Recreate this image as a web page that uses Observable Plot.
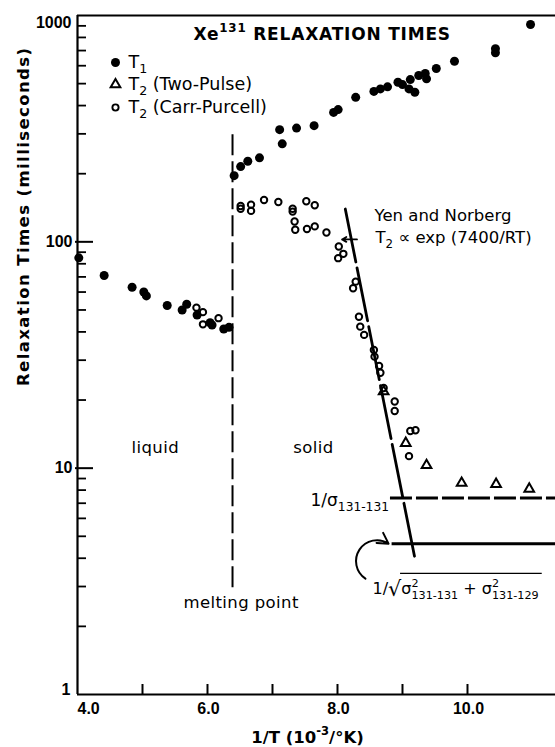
<!DOCTYPE html>
<html><head><meta charset="utf-8">
<script src="https://cdn.jsdelivr.net/npm/d3@7"></script>
<script src="https://cdn.jsdelivr.net/npm/@observablehq/plot@0.6"></script>
<style>
html,body{margin:0;padding:0;background:#fff;}
#chart{width:555px;height:747px;}
</style></head><body><div id="chart"></div>
<script>
// ---- data ----
// T1 (filled circles)
const t1X = [4.02, 4.41, 4.84, 5.02, 5.06, 5.38, 5.61, 5.68, 5.84, 6.04, 6.07, 6.25, 6.33,
  6.41, 6.51, 6.62, 6.80, 7.11, 7.15, 7.37, 7.64, 7.94, 8.01,
  8.28, 8.56, 8.66, 8.77, 8.93, 9.00, 9.10, 9.19, 9.12, 9.25,
  9.35, 9.37, 9.52, 9.80, 10.43, 10.43, 10.97];
const t1Y = [85, 71, 63, 60, 57.7, 52.3, 50, 53, 47.5, 43.9, 42.9, 41.2, 41.9,
  196, 215, 227, 235, 313, 271, 318, 326, 373, 384,
  435, 462, 474, 484, 507, 495, 474, 458, 521, 543,
  554, 525, 583, 628, 713, 684, 912];
// T2 Carr-Purcell (open circles)
const cpX = [5.83, 5.93, 5.93, 6.17,
  6.51, 6.51, 6.67, 6.67, 6.87, 7.09, 7.31, 7.31, 7.34, 7.35,
  7.52, 7.65, 7.53, 7.65, 7.83, 8.02, 8.09, 8.01, 8.28, 8.24,
  8.33, 8.35, 8.41, 8.56, 8.57, 8.64, 8.66, 8.71, 8.88, 8.88,
  9.12, 9.20, 9.10];
const cpY = [51.2, 48.9, 43.2, 46.0,
  144, 140, 146, 137, 153, 150, 140, 136, 123, 113,
  151, 145, 114, 117, 110, 95.3, 88.5, 84.7, 66.7, 62.4,
  46.7, 42.2, 38.8, 33.3, 31.1, 28.3, 26.4, 22.6, 19.7, 17.9,
  14.6, 14.7, 11.3];
// T2 Two-Pulse (triangles)
const tpX = [8.71, 9.05, 9.37, 9.91, 10.44, 10.95];
const tpY = [21.8, 12.9, 10.3, 8.6, 8.5, 8.1];
// Yen and Norberg line endpoints
const yenX = [8.12, 9.20];
const yenY = [139.6, 3.88];
// melting point line
const meltX = [6.385];
const meltY = [297, 2.89];
// reference levels: 1/sigma(131-131) dashed, 1/sqrt(...) solid
const sigmaLevel = [7.39];
const sigmaX = [8.815, 11.354];
const rootLevel = [4.64];
const rootX = [8.84, 11.354];
// ticks
const xDomain = [4, 11.354];
const yDomain = [1, 1000];
const xTicks = [5, 6, 7, 8, 9, 10];
const xTickLabels = ["4.0", "6.0", "8.0", "10.0"];
const xTickLabelValues = [4, 6, 8, 10];
const yMajor = [1, 10, 100, 1000];
const yTickLabels = ["1", "10", "100", "1000"];
const yMinor = [1, 10, 100].flatMap(d => [2,3,4,5,6,7,8,9].map(k => k * d));

// ---- build ----
const W = 555, H = 747, mL = 77, mT = 15, mB = 53, mR = 0;
const t1 = t1X.map((x, i) => ({x, y: t1Y[i]}));
const cp = cpX.map((x, i) => ({x, y: cpY[i]}));
const tp = tpX.map((x, i) => ({x, y: tpY[i]}));
const yen = yenX.map((x, i) => ({x, y: yenY[i]}));
const xLab = xTickLabelValues.map((v, i) => ({v, t: xTickLabels[i]}));
const yLab = yMajor.map((v, i) => ({v, t: yTickLabels[i]}));

const serif = "DejaVu Sans";
const numFont = "Liberation Sans";
const ann = (s, x, y, o = {}) => Plot.text([s], {x: () => x, y: () => y, text: d => d, textAnchor: "start", lineAnchor: "bottom", fontSize: 16.5, fontFamily: serif, fill: "black", ...o});

const chart = Plot.plot({
  width: W, height: H,
  marginLeft: mL, marginTop: mT, marginBottom: mB, marginRight: mR,
  x: {domain: xDomain, axis: null},
  y: {type: "log", domain: yDomain, axis: null},
  style: {fontFamily: serif, background: "white", color: "black", overflow: "visible"},
  marks: [
    // frame
    Plot.ruleX([xDomain[0]], {stroke: "black", strokeWidth: 2.2}),
    Plot.ruleY([yDomain[0]], {stroke: "black", strokeWidth: 2.2}),
    Plot.ruleY([yDomain[1]], {stroke: "black", strokeWidth: 2}),
    // ticks (inward)
    Plot.ruleY(yMinor, {stroke: "black", strokeWidth: 1.8, insetRight: W - mL - mR - 9}),
    Plot.ruleY([10, 100], {stroke: "black", strokeWidth: 2, insetRight: W - mL - mR - 16, insetLeft: -2}),
    Plot.ruleX(xTicks, {stroke: "black", strokeWidth: 2, insetTop: H - mT - mB - 10}),
    // tick labels
    Plot.text(yLab.filter(d => d.v === 10 || d.v === 100), {y: "v", text: "t", frameAnchor: "left", textAnchor: "end", dx: -5, fontSize: 16, fontWeight: "bold", fontFamily: numFont}),
    Plot.text(yLab.filter(d => d.v === 1000), {y: "v", text: "t", frameAnchor: "left", textAnchor: "end", dx: -6, dy: 7, fontSize: 16, fontWeight: "bold", fontFamily: numFont}),
    Plot.text(yLab.filter(d => d.v === 1), {y: "v", text: "t", frameAnchor: "left", textAnchor: "end", dx: -7, dy: -5, fontSize: 16, fontWeight: "bold", fontFamily: numFont}),
    Plot.text(xLab.filter(d => d.v === 4), {x: "v", text: "t", frameAnchor: "bottom", textAnchor: "start", lineAnchor: "bottom", dx: 0, dy: 19, fontSize: 16, fontWeight: "bold", fontFamily: numFont}),
    Plot.text(xLab.filter(d => d.v !== 4), {x: "v", text: "t", frameAnchor: "bottom", lineAnchor: "bottom", dy: 19, dx: 1, fontSize: 16, fontWeight: "bold", fontFamily: numFont}),
    // axis titles
    Plot.text(["1/T (10^{-3}/°K)"], {text: d => d, frameAnchor: "bottom", lineAnchor: "bottom", dx: -9, dy: 48, fontSize: 16.5, fontWeight: "bold", fontFamily: serif}),
    Plot.text(["Relaxation Times (milliseconds)"], {text: d => d, frameAnchor: "left", rotate: -90, dx: -54, dy: 31, fontSize: 16.5, fontWeight: "bold", fontFamily: serif}),
    // title
    Plot.text(["Xe^{131} RELAXATION TIMES"], {text: d => d, frameAnchor: "top-left", textAnchor: "start", lineAnchor: "bottom", dx: 116, dy: 24, fontSize: 17, fontWeight: "bold", fontFamily: serif}),
    // legend
    Plot.dot([0], {frameAnchor: "top-left", dx: 38, dy: 47, r: 4.5, fill: "black"}),
    Plot.dot([0], {frameAnchor: "top-left", dx: 38, dy: 69, r: 3.6, symbol: "triangle", stroke: "black", strokeWidth: 2, fill: "none"}),
    Plot.dot([0], {frameAnchor: "top-left", dx: 38, dy: 92, r: 3.1, stroke: "black", strokeWidth: 1.9, fill: "none"}),
    Plot.text(["T_{1}"], {text: d => d, frameAnchor: "top-left", textAnchor: "start", lineAnchor: "bottom", dx: 51, dy: 52, fontSize: 17.5, fontFamily: serif}),
    Plot.text(["T_{2} (Two-Pulse)"], {text: d => d, frameAnchor: "top-left", textAnchor: "start", lineAnchor: "bottom", dx: 51, dy: 74, fontSize: 17.5, fontFamily: serif}),
    Plot.text(["T_{2} (Carr-Purcell)"], {text: d => d, frameAnchor: "top-left", textAnchor: "start", lineAnchor: "bottom", dx: 51, dy: 97, fontSize: 17.5, fontFamily: serif}),
    // melting point
    Plot.ruleX(meltX, {y1: meltY[0], y2: meltY[1], stroke: "black", strokeWidth: 2, strokeDasharray: "21,6"}),
    // Yen and Norberg line
    Plot.line(yen, {x: "x", y: "y", stroke: "black", strokeWidth: 2.8, strokeDasharray: "54,6"}),
    // reference levels
    Plot.ruleY(sigmaLevel, {x1: sigmaX[0], x2: sigmaX[1], stroke: "black", strokeWidth: 3, strokeDasharray: "22,4"}),
    Plot.ruleY(rootLevel, {x1: rootX[0], x2: rootX[1], stroke: "black", strokeWidth: 3}),
    // data
    Plot.dot(t1, {x: "x", y: "y", r: 4.5, fill: "black"}),
    Plot.dot(cp, {x: "x", y: "y", r: 3.2, stroke: "black", strokeWidth: 2, fill: "none"}),
    Plot.dot(tp, {x: "x", y: "y", r: 3.6, symbol: "triangle", stroke: "black", strokeWidth: 2, fill: "none"}),
    // annotations
    ann("liquid", 4.83, 11.65),
    ann("solid", 7.32, 11.65),
    ann("melting point", 5.63, 2.42),
    ann("Yen and Norberg", 8.57, 123),
    ann("T_{2} ∝ exp (7400/RT)", 8.585, 98.7),
    Plot.arrow([0], {x1: () => 8.30, y1: () => 102.5, x2: () => 8.07, y2: () => 102.5, stroke: "black", strokeWidth: 1.8, headLength: 7}),
    ann("1/σ_{131-131}", 7.585, 6.79, {fontSize: 17}),
    ann("1/!{√}σ^{2}_|{131-131} + σ^{2}_|{131-129}", 8.538, 2.77, {fontSize: 16}),
    Plot.ruleY([3.43], {x1: 8.97, x2: 11.15, stroke: "black", strokeWidth: 1.3}),
    Plot.arrow([0], {x1: () => 8.43, y1: () => 3.25, x2: () => 8.785, y2: () => 4.64, bend: 110, stroke: "black", strokeWidth: 2, headLength: 9})
  ]
});

document.getElementById("chart").appendChild(chart);

// rich text: ^{sup}, _{sub}, _|{sub stacked under previous sup}, !{enlarged}
function richify(svg) {
  const NS = "http://www.w3.org/2000/svg";
  for (const t of svg.querySelectorAll("text")) {
    const s = t.textContent;
    if (!/(\^|_\|?|!)\{/.test(s)) continue;
    const fs = parseFloat(getComputedStyle(t).fontSize) || 16;
    while (t.firstChild) t.removeChild(t.firstChild);
    const parts = s.match(/\^\{[^}]*\}|_\|?\{[^}]*\}|!\{[^}]*\}|[^\^_!]+|[\^_!]/g);
    let cur = 0, lastW = 0;
    for (const p of parts) {
      let txt = p, shift = 0, size = null, back = 0, kind = "n";
      if (p.startsWith("^{")) { txt = p.slice(2, -1); shift = -0.45 * fs; size = 0.7 * fs; kind = "sup"; }
      else if (p.startsWith("_|{")) { txt = p.slice(3, -1); shift = 0.3 * fs; size = 0.7 * fs; back = lastW; }
      else if (p.startsWith("_{")) { txt = p.slice(2, -1); shift = 0.3 * fs; size = 0.72 * fs; }
      else if (p.startsWith("!{")) { txt = p.slice(2, -1); shift = 0.08 * fs; size = 1.3 * fs; }
      const ts = document.createElementNS(NS, "tspan");
      ts.setAttribute("dy", (shift - cur).toFixed(2));
      cur = shift;
      if (back) ts.setAttribute("dx", (-back).toFixed(2));
      if (size) ts.setAttribute("font-size", size.toFixed(2));
      ts.textContent = txt;
      t.appendChild(ts);
      lastW = kind === "sup" ? ts.getComputedTextLength() : 0;
    }
  }
  for (const t of svg.querySelectorAll("text")) {
    if (t.textContent === "Relaxation Times (milliseconds)") t.setAttribute("letter-spacing", "1.4");
    if (t.textContent === "Xe131 RELAXATION TIMES") t.setAttribute("letter-spacing", "0.8");
    if (["liquid", "solid", "melting point"].includes(t.textContent)) t.setAttribute("letter-spacing", "0.4");
  }
}
richify(chart);
</script>
</body></html>
